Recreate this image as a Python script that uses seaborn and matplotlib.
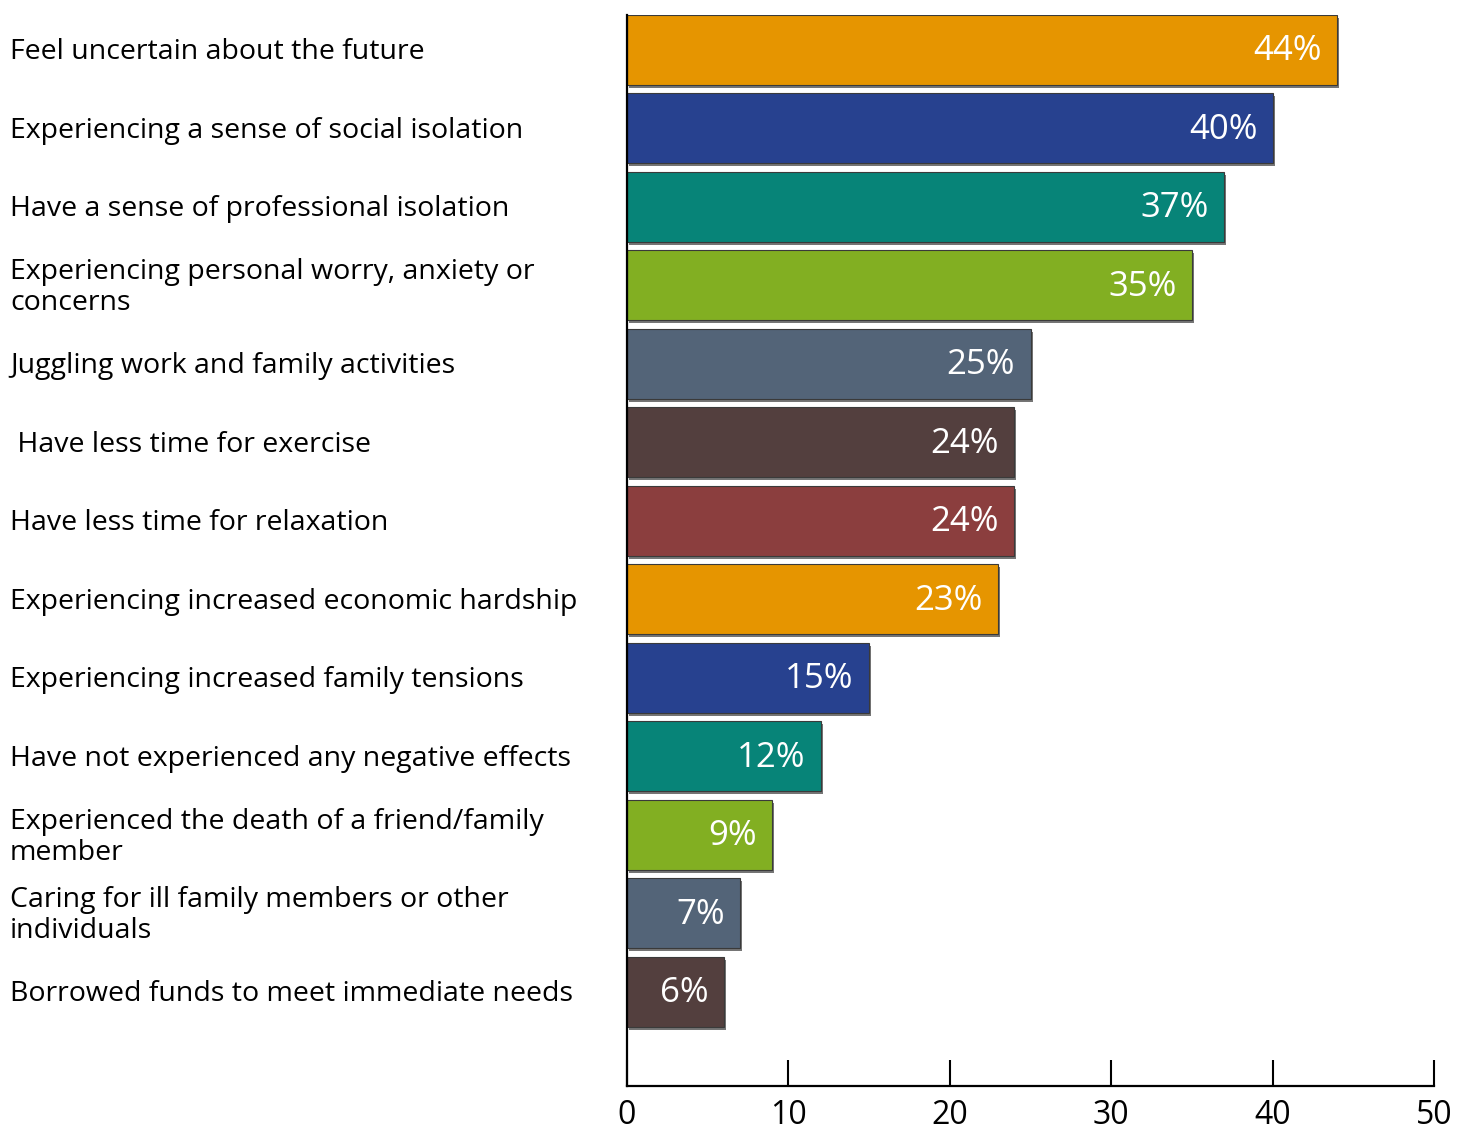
import matplotlib
matplotlib.use("Agg")
import matplotlib.pyplot as plt
import matplotlib.patheffects as pe
import seaborn as sns

categories = [
    "Feel uncertain about the future",
    "Experiencing a sense of social isolation",
    "Have a sense of professional isolation",
    "Experiencing personal worry, anxiety or\nconcerns",
    "Juggling work and family activities",
    " Have less time for exercise",
    "Have less time for relaxation",
    "Experiencing increased economic hardship",
    "Experiencing increased family tensions",
    "Have not experienced any negative effects",
    "Experienced the death of a friend/family\nmember",
    "Caring for ill family members or other\nindividuals",
    "Borrowed funds to meet immediate needs",
]
values = [44, 40, 37, 35, 25, 24, 24, 23, 15, 12, 9, 7, 6]
bar_colors = ["#E69500", "#27418F", "#078478", "#82AF22", "#536478", "#533F3E",
              "#8B3E3E", "#E69500", "#27418F", "#078478", "#82AF22", "#536478", "#533F3E"]
x_ticks = [0, 10, 20, 30, 40, 50]

sns.set_style("white")
plt.rcParams["font.family"] = ["Open Sans", "DejaVu Sans"]

fig = plt.figure(figsize=(14.67, 11.34), dpi=100)
ax = fig.add_axes([627 / 1467, 48 / 1134, 807 / 1467, 1071 / 1134])

sns.barplot(x=values, y=categories, hue=categories, palette=bar_colors,
            orient="h", width=0.89, legend=False, ax=ax, saturation=1)

for p in ax.patches:
    p.set_edgecolor("#3a3a3a")
    p.set_linewidth(0.8)
    p.set_path_effects([pe.SimplePatchShadow(offset=(1.5, -2), shadow_rgbFace="#1a1a1a", alpha=0.6),
                        pe.Normal()])

for i, v in enumerate(values):
    ax.text(v - 0.95, i + 0.02, f"{v}%", ha="right", va="center", color="white", fontsize=25)

for i, lab in enumerate(categories):
    ax.text(-0.7646, i + 0.03, lab, transform=ax.get_yaxis_transform(),
            ha="left", va="center", fontsize=20.5, color="black", linespacing=1.15)

ax.set_yticks([])
ax.set_ylabel("")
ax.set_xlim(0, 50)
ax.set_ylim(13.2, -0.445)
ax.set_xticks(x_ticks)
ax.set_xticklabels([str(t) for t in x_ticks], fontsize=23, color="black")
ax.tick_params(axis="x", direction="in", length=19, width=1.5, color="black", pad=9, bottom=True)
for s in ["top", "right"]:
    ax.spines[s].set_visible(False)
for s in ["left", "bottom"]:
    ax.spines[s].set_color("black")
    ax.spines[s].set_linewidth(1.6)

fig.savefig("out.png", dpi=100)
